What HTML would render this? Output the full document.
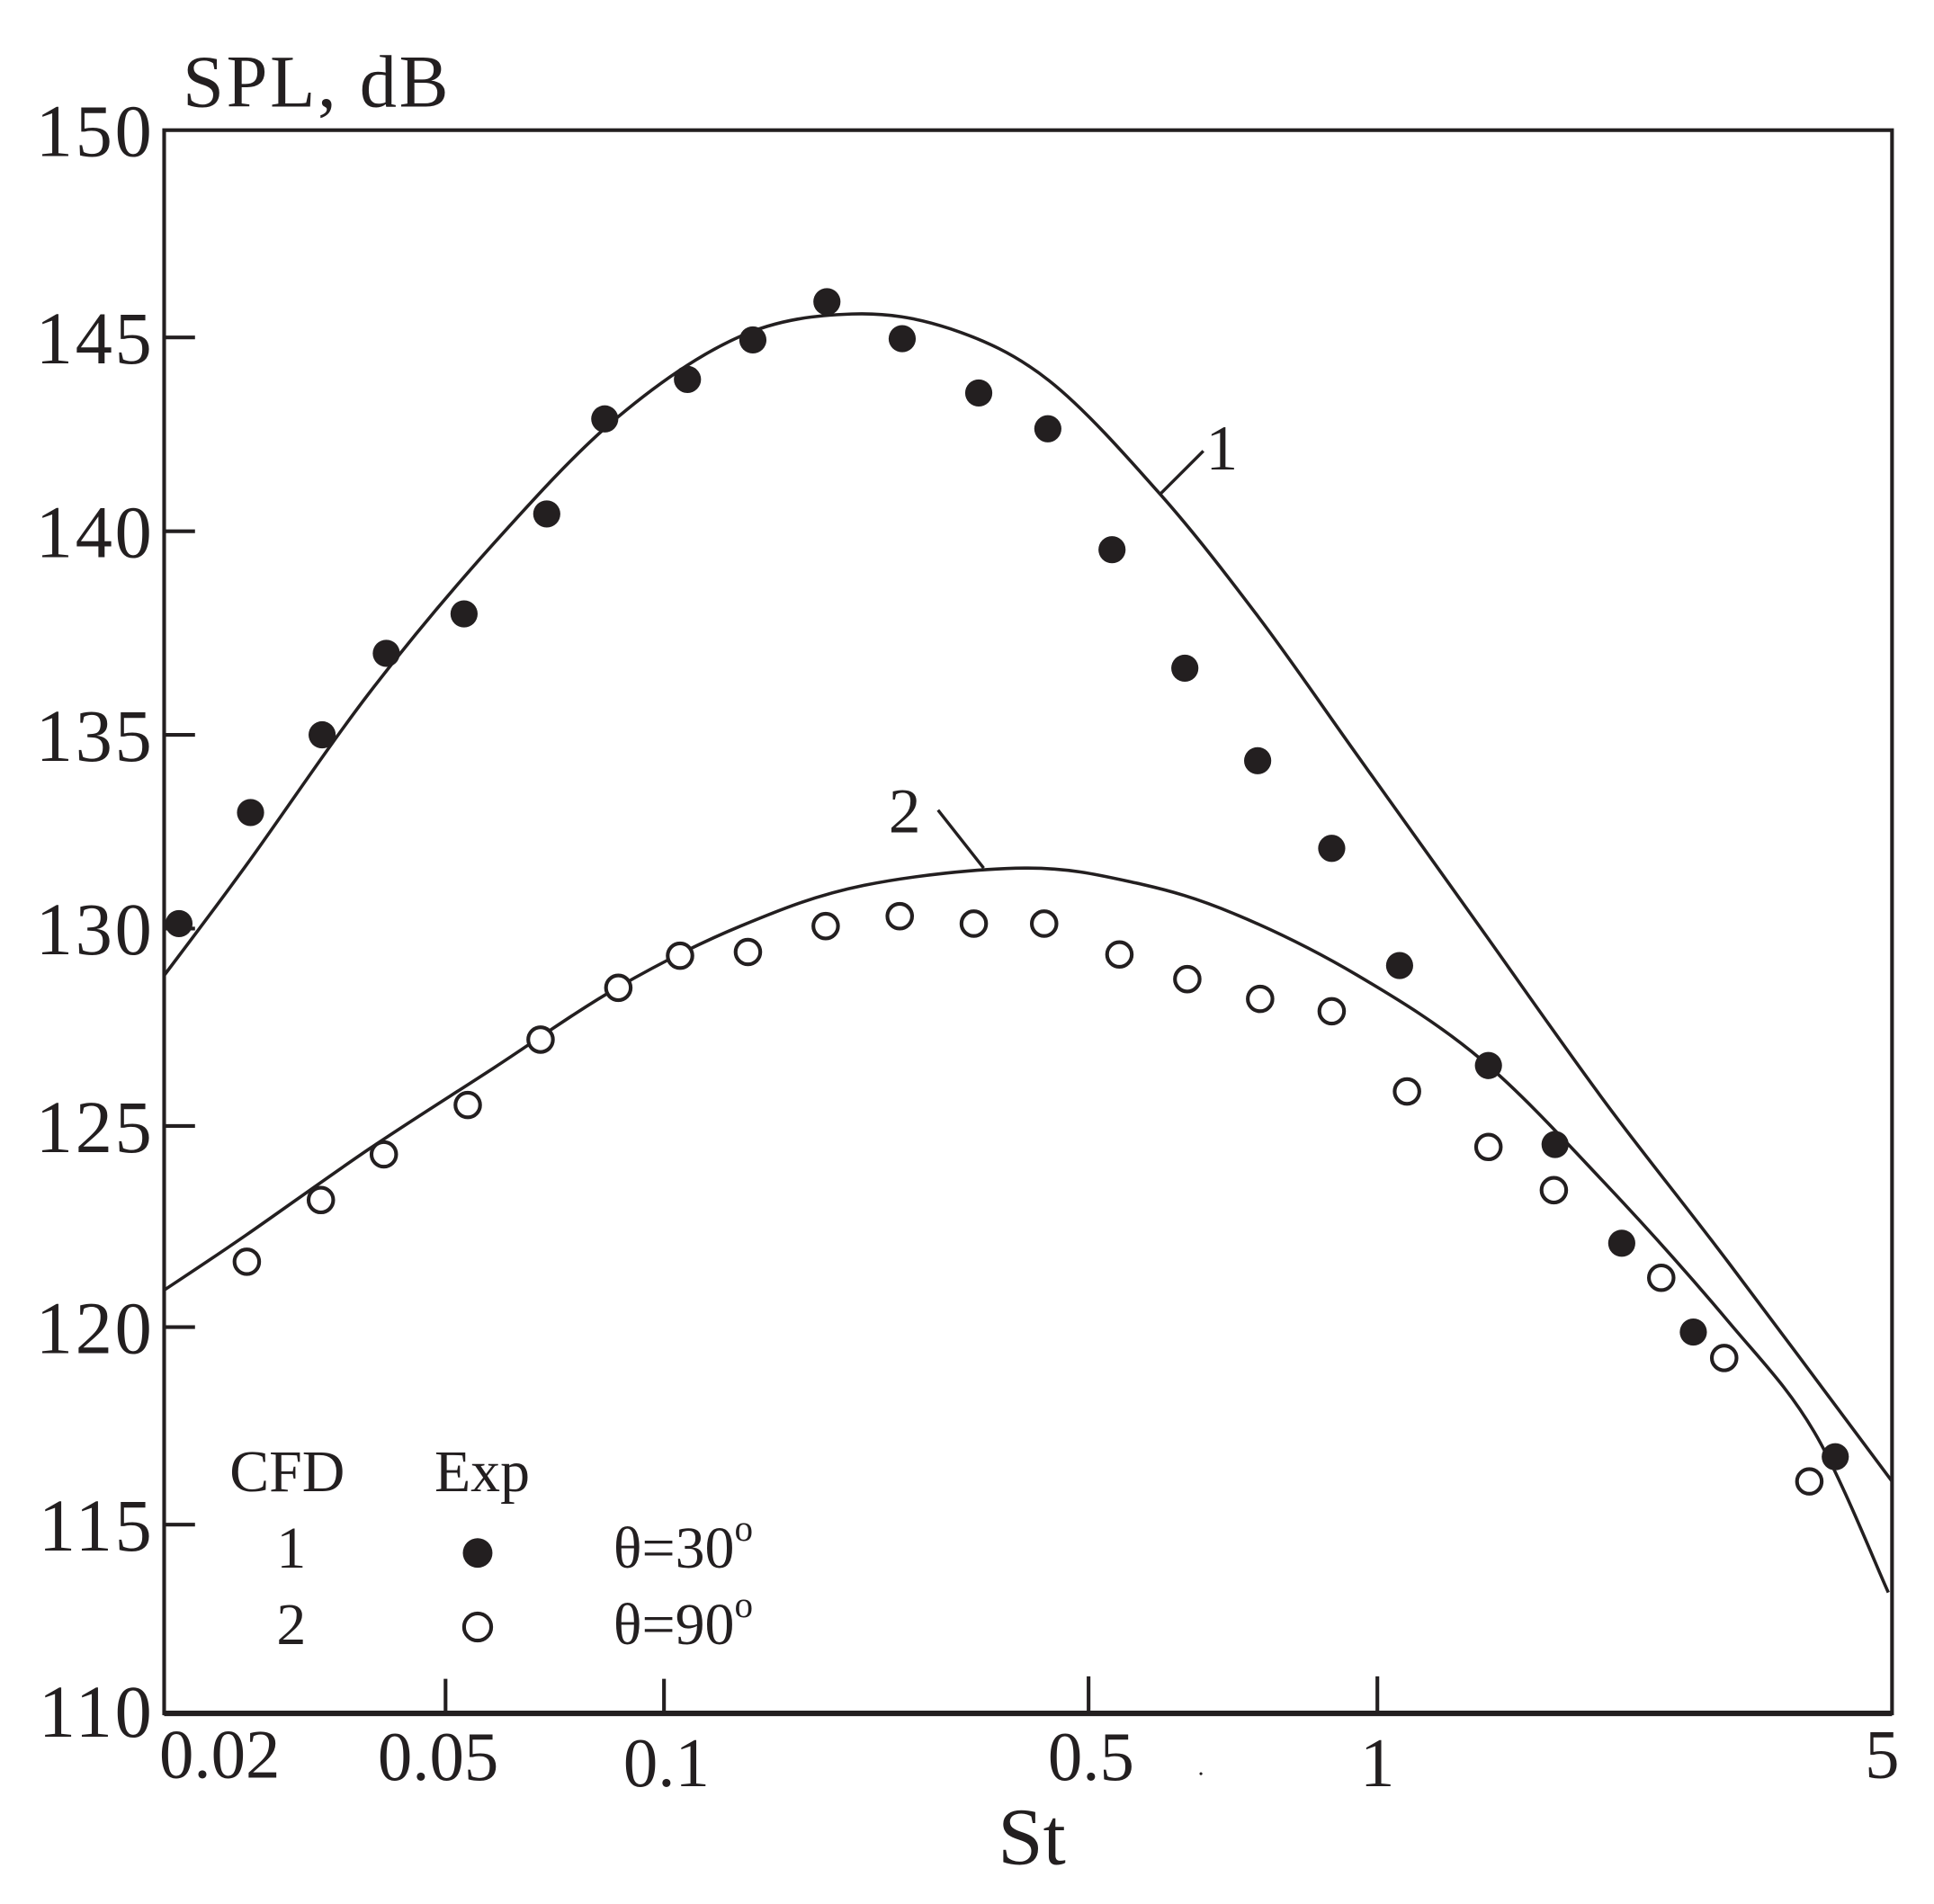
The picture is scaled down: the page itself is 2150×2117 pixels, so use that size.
<!DOCTYPE html>
<html><head><meta charset="utf-8"><style>html,body{margin:0;padding:0;background:#fff}svg{display:block}</style></head>
<body>
<svg width="2150" height="2117" viewBox="0 0 1567 1542" xmlns="http://www.w3.org/2000/svg" font-family="Liberation Serif, serif" fill="#231f20">
<rect x="0" y="0" width="1567" height="1542" fill="#fff"/>
<g stroke="#231f20" fill="none">
<rect x="133" y="105" width="1400" height="1283" stroke-width="3"/>
<line x1="133" y1="1388" x2="1533" y2="1388" stroke-width="4.5"/>
<path stroke-width="3" d="M133 273h25M133 430h25M133 595h25M133 752h25M133 912h25M133 1075h25M133 1235h25M361 1388v-28M538 1388v-28M882 1388v-30M1116 1388v-30"/>
<path stroke-width="2.6" d="M133 790 C144.2 775,172.2 738.3,200 700 C227.8 661.7,266.7 603.3,300 560 C333.3 516.7,366.7 477,400 440 C433.3 403,466.7 366,500 338 C533.3 310,568.3 286,600 272 C631.7 258,661.7 255,690 254 C718.3 253,743.3 257,770 266 C796.7 275,821.7 285.7,850 308 C878.3 330.3,911.7 368,940 400 C968.3 432,993.3 464.7,1020 500 C1046.7 535.3,1070 570,1100 612 C1130 654,1166.7 705.3,1200 752 C1233.3 798.7,1266.7 847,1300 892 C1333.3 937,1361.2 970.7,1400 1022 C1438.8 1073.3,1510.8 1170.3,1533 1200"/>
<path stroke-width="2.6" d="M133 1045 C144.2 1037.5,172.2 1019.2,200 1000 C227.8 980.8,266.7 952.5,300 930 C333.3 907.5,366.7 886.7,400 865 C433.3 843.3,466.7 819.2,500 800 C533.3 780.8,566.7 763.8,600 750 C633.3 736.2,661.7 724.8,700 717 C738.3 709.2,793.3 703.3,830 703 C866.7 702.7,891.7 708.8,920 715 C948.3 721.2,970 727.5,1000 740 C1030 752.5,1066.7 770.3,1100 790 C1133.3 809.7,1166.7 830,1200 858 C1233.3 886,1266.7 922.7,1300 958 C1333.3 993.3,1371.7 1036.3,1400 1070 C1428.3 1103.7,1448.3 1123.3,1470 1160 C1491.7 1196.7,1520 1268.3,1530 1290"/>
<path stroke-width="2.5" d="M940 400L975 365M797 703L760 656"/>
</g>
<g>
<circle cx="145" cy="748" r="11"/><circle cx="203" cy="658" r="11"/><circle cx="261" cy="595" r="11"/><circle cx="313" cy="529" r="11"/><circle cx="376" cy="497" r="11"/><circle cx="443" cy="416" r="11"/><circle cx="490" cy="339" r="11"/><circle cx="557" cy="307" r="11"/><circle cx="610" cy="275" r="11"/><circle cx="670" cy="244" r="11"/><circle cx="731" cy="274" r="11"/><circle cx="793" cy="318" r="11"/><circle cx="849" cy="347" r="11"/><circle cx="901" cy="445" r="11"/><circle cx="960" cy="541" r="11"/><circle cx="1019" cy="616" r="11"/><circle cx="1079" cy="687" r="11"/><circle cx="1134" cy="782" r="11"/><circle cx="1206" cy="863" r="11"/><circle cx="1260" cy="927" r="11"/><circle cx="1314" cy="1007" r="11"/><circle cx="1372" cy="1079" r="11"/><circle cx="1487" cy="1180" r="11"/>
<circle cx="387" cy="1258" r="12"/>
</g>
<g fill="#fff" stroke="#231f20" stroke-width="3">
<circle cx="200" cy="1022" r="10"/><circle cx="260" cy="972" r="10"/><circle cx="311" cy="935" r="10"/><circle cx="379" cy="895" r="10"/><circle cx="438" cy="842" r="10"/><circle cx="501" cy="800" r="10"/><circle cx="551" cy="774" r="10"/><circle cx="606" cy="771" r="10"/><circle cx="669" cy="750" r="10"/><circle cx="729" cy="742" r="10"/><circle cx="789" cy="748" r="10"/><circle cx="846" cy="748" r="10"/><circle cx="907" cy="773" r="10"/><circle cx="962" cy="793" r="10"/><circle cx="1021" cy="809" r="10"/><circle cx="1079" cy="819" r="10"/><circle cx="1140" cy="884" r="10"/><circle cx="1206" cy="929" r="10"/><circle cx="1259" cy="964" r="10"/><circle cx="1346" cy="1035" r="10"/><circle cx="1397" cy="1100" r="10"/><circle cx="1466" cy="1200" r="10"/>
<circle cx="387" cy="1318" r="11"/>
</g>
<g font-size="60" text-anchor="end" letter-spacing="2">
<text x="125" y="126">150</text><text x="125" y="294">145</text><text x="125" y="451">140</text><text x="125" y="616">135</text><text x="125" y="773">130</text><text x="125" y="933">125</text><text x="125" y="1096">120</text><text x="125" y="1256">115</text><text x="125" y="1407">110</text>
</g>
<g font-size="56" text-anchor="middle">
<text x="178" y="1440">0.02</text><text x="355" y="1442">0.05</text><text x="540" y="1447">0.1</text><text x="884" y="1442">0.5</text><text x="1116" y="1447">1</text><text x="1525" y="1440">5</text>
<text x="973" y="1438" font-size="20">.</text>
<text x="836" y="1510" font-size="66">St</text>
</g>
<text x="148" y="86" font-size="60" letter-spacing="2">SPL, dB</text>
<text x="977" y="380" font-size="52">1</text>
<text x="720" y="674" font-size="52">2</text>
<g font-size="48">
<text x="186" y="1208">CFD</text><text x="352" y="1208">Exp</text>
<text x="224" y="1270">1</text><text x="224" y="1332">2</text>
<text x="497" y="1270">θ=30<tspan dy="-22" font-size="30">o</tspan></text>
<text x="497" y="1332">θ=90<tspan dy="-22" font-size="30">o</tspan></text>
</g>
</svg>
</body></html>
